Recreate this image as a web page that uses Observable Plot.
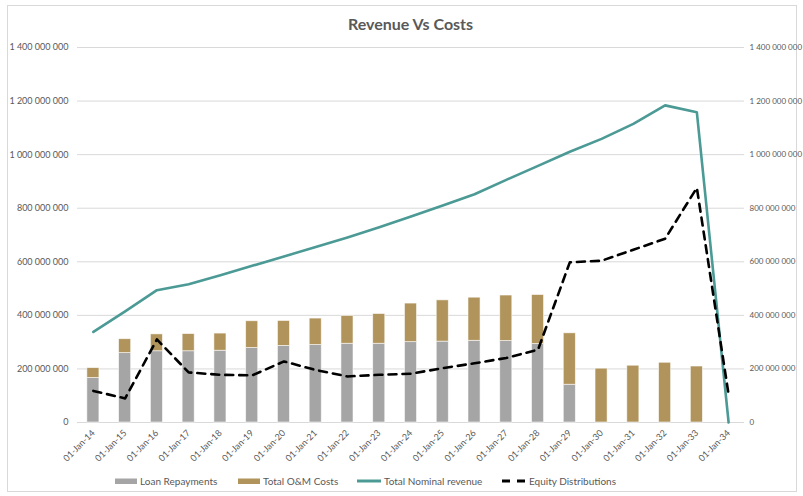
<!DOCTYPE html>
<html><head><meta charset="utf-8">
<script src="https://cdn.jsdelivr.net/npm/d3@7"></script>
<script src="https://cdn.jsdelivr.net/npm/@observablehq/plot@0.6"></script>
<style>
body{margin:0;background:#fff;font-family:Lato,"Open Sans",sans-serif;}
#wrap{position:relative;width:803px;height:496px;overflow:hidden;background:#fff}
#frame{position:absolute;left:7px;top:5px;width:790px;height:487px;border:1px solid #d9d9d9;box-sizing:border-box}
#title{position:absolute;top:14px;left:9px;width:803px;text-align:center;font-weight:bold;font-size:16px;color:#595959}
#chart{position:absolute;left:0;top:0}
.leg{position:absolute;top:474px;height:14px;font-size:10px;color:#595959;display:flex;align-items:center;white-space:nowrap}
.leg svg{margin-right:3px}
</style>
</head><body>
<div id="wrap">
  <div id="frame"></div>
  <div id="chart"></div>
  <div id="title">Revenue Vs Costs</div>
  <div id="legend"></div>
</div>
<script>
const categories = ["01-Jan-14","01-Jan-15","01-Jan-16","01-Jan-17","01-Jan-18","01-Jan-19","01-Jan-20","01-Jan-21","01-Jan-22","01-Jan-23","01-Jan-24","01-Jan-25","01-Jan-26","01-Jan-27","01-Jan-28","01-Jan-29","01-Jan-30","01-Jan-31","01-Jan-32","01-Jan-33","01-Jan-34"];
// values in millions
const loanRepayments = [166, 259, 266, 266, 268, 278, 286, 289, 294, 294, 300, 302, 305, 304, 293, 141, 0, 0, 0, 0, 0];
const omCosts        = [37, 52, 63, 64, 64, 100, 93, 99, 104, 111, 144, 154, 161, 170, 183, 192, 201, 212, 223, 209, 0];
const nominalRevenue = [338, 415, 494, 516, 550, 585, 620, 655, 691, 729, 769, 810, 852, 906, 958, 1011, 1059, 1115, 1184, 1158, 0];
const equityDistributions = [118, 90, 310, 187, 178, 176, 228, 196, 172, 178, 182, 203, 221, 241, 272, 598, 604, 645, 686, 876, 104];
const yTicks = [0, 200e6, 400e6, 600e6, 800e6, 1000e6, 1200e6, 1400e6];
const seriesNames = ["Loan Repayments", "Total O&M Costs", "Total Nominal revenue", "Equity Distributions"];
const colors = {"Loan Repayments":"#A5A5A5","Total O&M Costs":"#B0945B","Total Nominal revenue":"#4B9A95","Equity Distributions":"#000000"};

const M = 1e6;
const barData = [
  ...categories.map((c,i)=>({cat:c, series:"Loan Repayments", value:loanRepayments[i]*M})),
  ...categories.map((c,i)=>({cat:c, series:"Total O&M Costs", value:omCosts[i]*M}))
];
const revData = categories.map((c,i)=>({cat:c, value:nominalRevenue[i]*M}));
const eqData = categories.map((c,i)=>({cat:c, value:equityDistributions[i]*M}));
const fmt = d => d3.format(",")(d).replace(/,/g, " ");

const chart = Plot.plot({
  width: 803, height: 496,
  marginLeft: 77, marginRight: 59, marginTop: 47, marginBottom: 74,
  style: {fontFamily: "Lato, 'Open Sans', sans-serif", fontSize: "9px", color: "#595959", background: "transparent", overflow: "visible"},
  x: {type: "band", domain: categories, paddingInner: 0.62, paddingOuter: 0.31, round: false, label: null},
  y: {domain: [0, 1.4e9], label: null},
  color: {domain: seriesNames.slice(0,2), range: [colors["Loan Repayments"], colors["Total O&M Costs"]]},
  marks: [
    Plot.gridY(yTicks, {stroke: "#d9d9d9", strokeOpacity: 1, strokeWidth: 1}),
    Plot.axisY(yTicks, {anchor: "left", tickSize: 0, tickPadding: 9, tickFormat: fmt, label: null, fill: "#595959"}),
    Plot.axisY(yTicks, {anchor: "right", tickSize: 0, tickPadding: 5, tickFormat: fmt, label: null, fill: "#595959", fontSize: 8}),
    Plot.axisX({tickSize: 0, tickRotate: -45, tickPadding: 9, label: null, fill: "#595959"}),
    Plot.barY(barData, {x: "cat", y: "value", fill: "series", stroke: "#ffffff", strokeWidth: 0.8, strokeOpacity: 0.7}),
    Plot.lineY(revData, {x: "cat", y: "value", stroke: colors["Total Nominal revenue"], strokeWidth: 2.6, strokeLinejoin: "round"}),
    Plot.lineY(eqData, {x: "cat", y: "value", stroke: "#000", strokeWidth: 2.6, strokeDasharray: "8,6"})
  ]
});
document.getElementById("chart").appendChild(chart);

// legend
const legend = document.getElementById("legend");
const lefts = [115, 238, 357, 502];
seriesNames.forEach((name, i) => {
  const item = document.createElement("div");
  item.className = "leg";
  item.style.left = lefts[i] + "px";
  let sw;
  if (i < 2) sw = `<svg width="22" height="8"><rect x="0" y="1.5" width="22" height="5.5" fill="${colors[name]}"/></svg>`;
  else if (i === 2) sw = `<svg width="24" height="8"><line x1="0" x2="24" y1="4" y2="4" stroke="${colors[name]}" stroke-width="3"/></svg>`;
  else sw = `<svg width="24" height="8"><line x1="0" x2="24" y1="4" y2="4" stroke="#000" stroke-width="3" stroke-dasharray="8,7"/></svg>`;
  item.innerHTML = sw + `<span>${name}</span>`;
  legend.appendChild(item);
});
</script>
</body></html>
